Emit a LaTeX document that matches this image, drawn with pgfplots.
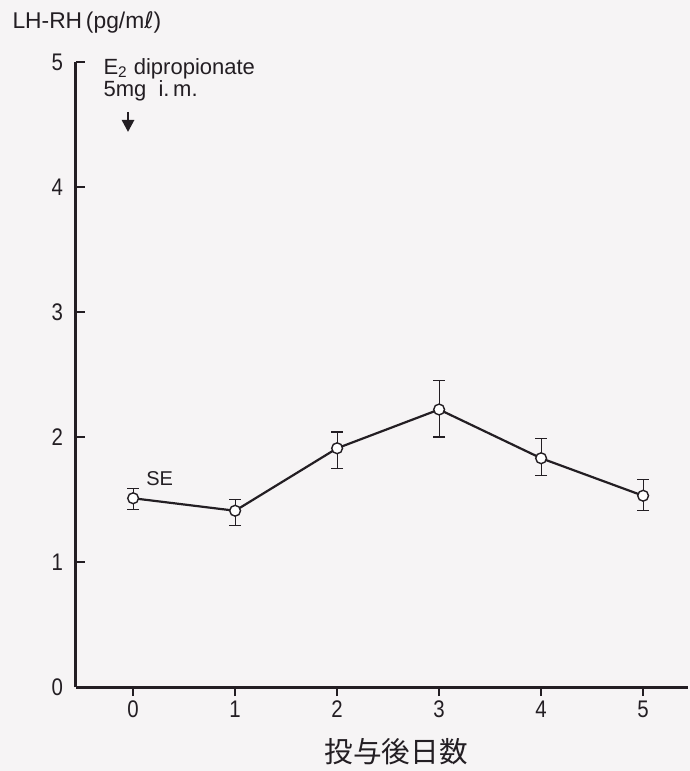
\documentclass[border=0pt]{standalone}
\usepackage{fontspec}
\setmainfont{Liberation Sans}
\newfontfamily\cjk{Noto Sans CJK JP}
\newfontfamily\dv{DejaVu Sans}
\newfontfamily\cond[FakeStretch=0.85]{Liberation Sans}
\usepackage{pgfplots}
\pgfplotsset{compat=1.18}
\usetikzlibrary{arrows.meta}
\definecolor{ink}{RGB}{35,30,35}
\definecolor{paper}{RGB}{246,244,245}
\pgfplotsset{
  base/.style={
    at={(0,0)}, anchor=south west,
    scale only axis, width=306pt, height=312.5pt,
    xmin=-0.56, xmax=5.44, ymin=0, ymax=5,
    axis x line*=bottom, axis y line*=left,
    axis line style={line width=1.5pt, ink},
    major tick length=4.5pt,
    tick style={line width=0.9pt, ink},
    /pgf/number format/assume math mode=true,
    ticklabel style={font=\cond\fontsize{12}{14}\selectfont, text=ink},
    clip=false,
  }
}
\begin{document}
\begin{tikzpicture}[x=1pt,y=1pt]
\fill[paper] (-38,-42) rectangle (307,343.5);
% x ticks: outside
\begin{axis}[base, xtick={0,1,2,3,4,5}, ytick=\empty, tick align=outside,
  xticklabel style={yshift=1pt}]
\end{axis}
% y ticks inside + data
\begin{axis}[base, xtick=\empty, ytick={0,1,2,3,4,5}, tick align=inside,
  yticklabel style={xshift=-3pt}]
\addplot[ink, line width=1.1pt, mark=*, mark size=2.7pt,
  mark options={fill=white, draw=ink, line width=0.7pt},
  error bars/.cd, y dir=both, y explicit,
  error bar style={line width=0.6pt, ink},
  error mark options={rotate=90, mark size=3pt, line width=0.6pt, ink}]
coordinates {
  (0,1.51) +=(0,0.075) -=(0,0.09)
  (1,1.41) +=(0,0.09) -=(0,0.115)
  (2,1.91) +=(0,0.13) -=(0,0.16)
  (3,2.22) +=(0,0.235) -=(0,0.22)
  (4,1.83) +=(0,0.155) -=(0,0.14)
  (5,1.53) +=(0,0.13) -=(0,0.115)
};
\node[anchor=base west, inner sep=0pt, font=\fontsize{11}{12}\selectfont, text=ink] at (axis cs:-0.294,4.90) {E\textsubscript{2} dipropionate};
\node[anchor=base west, inner sep=0pt, font=\fontsize{11}{12}\selectfont, text=ink] at (axis cs:-0.294,4.72) {5mg\ \ i.\,m.};
\draw[ink, line width=1.3pt, -{Triangle[length=6pt,width=6pt]}] (axis cs:-0.05,4.60) -- (axis cs:-0.05,4.44);
\node[font=\fontsize{10}{11}\selectfont, text=ink] at (axis cs:0.26,1.67) {SE};
\node[anchor=west, inner sep=0pt, font=\fontsize{11.4}{13}\selectfont, text=ink] at (axis cs:-1.186,5.32) {LH-RH\,(pg/m{\dv ℓ})};
\node[font=\cjk\fontsize{14.3}{17}\selectfont, text=ink] at (axis cs:2.58,-0.52) {投与後日数};
\end{axis}
\pgfresetboundingbox
\path[use as bounding box] (-38,-42) rectangle (307,343.5);
\end{tikzpicture}
\end{document}
